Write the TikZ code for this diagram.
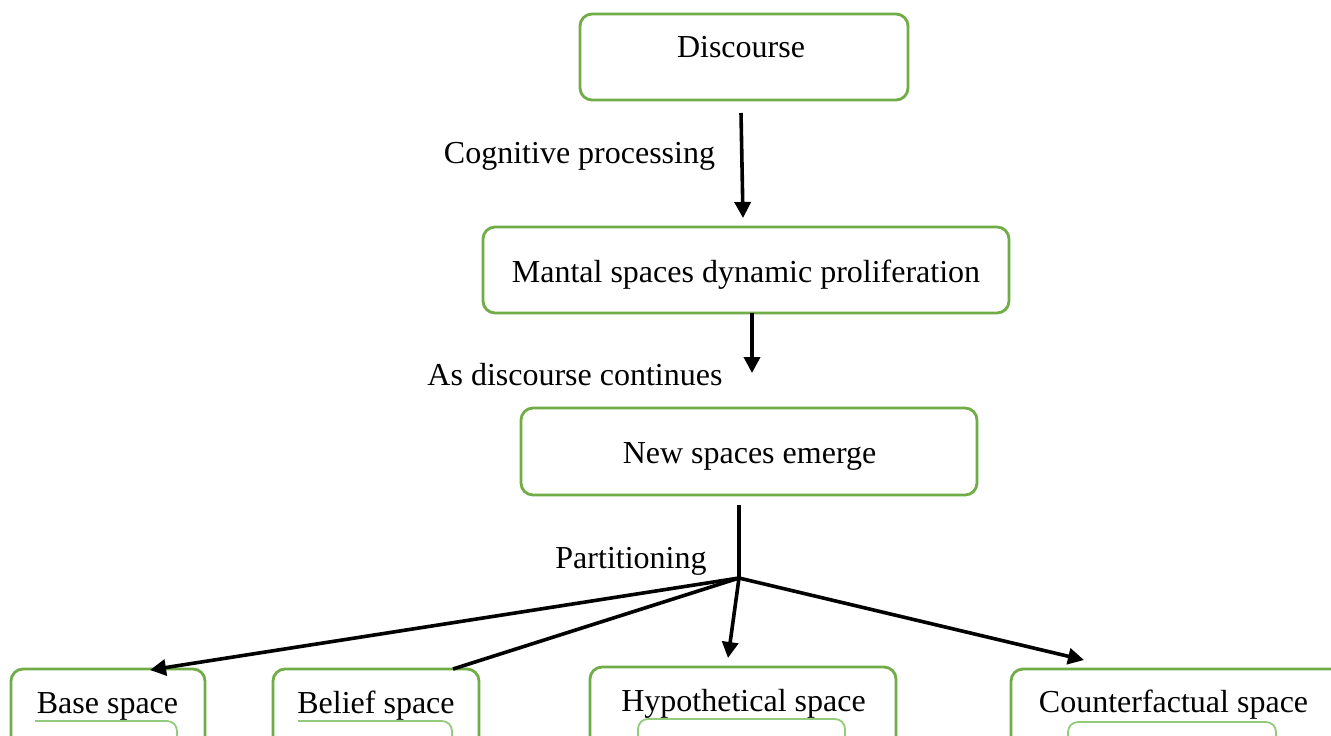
\documentclass[tikz,border=0pt]{standalone}
\usepackage{fontspec}
\setmainfont{Liberation Serif}
\usetikzlibrary{arrows.meta,fit}
\definecolor{boxgreen}{HTML}{70AD47}
\definecolor{innergreen}{HTML}{93CB7A}
\begin{document}
\begin{tikzpicture}[x=0.5pt,y=-0.5pt,
  box/.style={draw=boxgreen,line width=1.4pt,rounded corners=6pt,inner sep=0pt},
  inner/.style={draw=innergreen,line width=0.9pt,rounded corners=5pt},
  txt/.style={anchor=base,inner sep=0pt,font=\fontsize{16}{19}\selectfont},
  arr/.style={line width=1.8pt,-{Triangle[length=8pt,width=8pt]}},
  ln/.style={line width=1.8pt}]
\clip (0,0) rectangle (1331,735);
\fill[white] (0,0) rectangle (1331,735);
% corner points of boxes
\coordinate (d1) at (580,14);   \coordinate (d2) at (908,100);
\coordinate (m1) at (483,227);  \coordinate (m2) at (1009,313);
\coordinate (n1) at (521,408);  \coordinate (n2) at (977,495);
\coordinate (b1) at (11,669);   \coordinate (b2) at (205,760);
\coordinate (e1) at (273,669);  \coordinate (e2) at (479,760);
\coordinate (h1) at (590,667);  \coordinate (h2) at (896,760);
\coordinate (c1) at (1011,669); \coordinate (c2) at (1360,760);
% boxes
\node[box,fit=(d1)(d2)] (disc) {};
\node[box,fit=(m1)(m2)] (mant) {};
\node[box,fit=(n1)(n2)] (news) {};
\node[box,fit=(b1)(b2)] (base) {};
\node[box,fit=(e1)(e2)] (belief) {};
\node[box,fit=(h1)(h2)] (hyp) {};
\node[box,fit=(c1)(c2)] (counter) {};
% inner partial boxes
\draw[inner] (35,721) -- (177,721) -- (177,745);
\draw[inner] (298,721) -- (452,721) -- (452,745);
\draw[inner] (638,745) -- (638,719) -- (845,719) -- (845,745);
\draw[inner] (1068,745) -- (1068,722) -- (1276,722) -- (1276,745);
% texts
\node[txt] (discT) at (741,57) {Discourse};
\node[txt] (mantT) at (746,282) {Mantal spaces dynamic proliferation};
\node[txt] (newsT) at (749.5,463) {New spaces emerge};
\node[txt] (baseT) at (107.5,713) {Base space};
\node[txt] (beliefT) at (376,713) {Belief space};
\node[txt] (hypT) at (743.5,711) {Hypothetical space};
\node[txt] (counterT) at (1173.5,712) {Counterfactual space};
\node[txt] (cogL) at (579.5,163) {Cognitive processing};
\node[txt] (contL) at (575,385) {As discourse continues};
\node[txt] (partL) at (631,568) {Partitioning};
% connector endpoints
\coordinate (a1s) at (741,113);
\coordinate (a1e) at (743,218);
\coordinate (a2s) at (752,313);
\coordinate (a2e) at (752,373);
\coordinate (ls) at (739,505);
\coordinate (J) at (739,578);
\coordinate (tbase) at (150,670);
\coordinate (tbelief) at (453,669);
\coordinate (thyp) at (728,658);
\coordinate (tcounter) at (1084,660);
% connectors
\draw[arr] (a1s) -- (a1e);
\draw[arr] (a2s) -- (a2e);
\draw[ln] (ls) -- (J);
\draw[arr] (J) -- (tbase);
\draw[ln] (J) -- (tbelief);
\draw[arr] (J) -- (thyp);
\draw[arr] (J) -- (tcounter);
\end{tikzpicture}
\end{document}
